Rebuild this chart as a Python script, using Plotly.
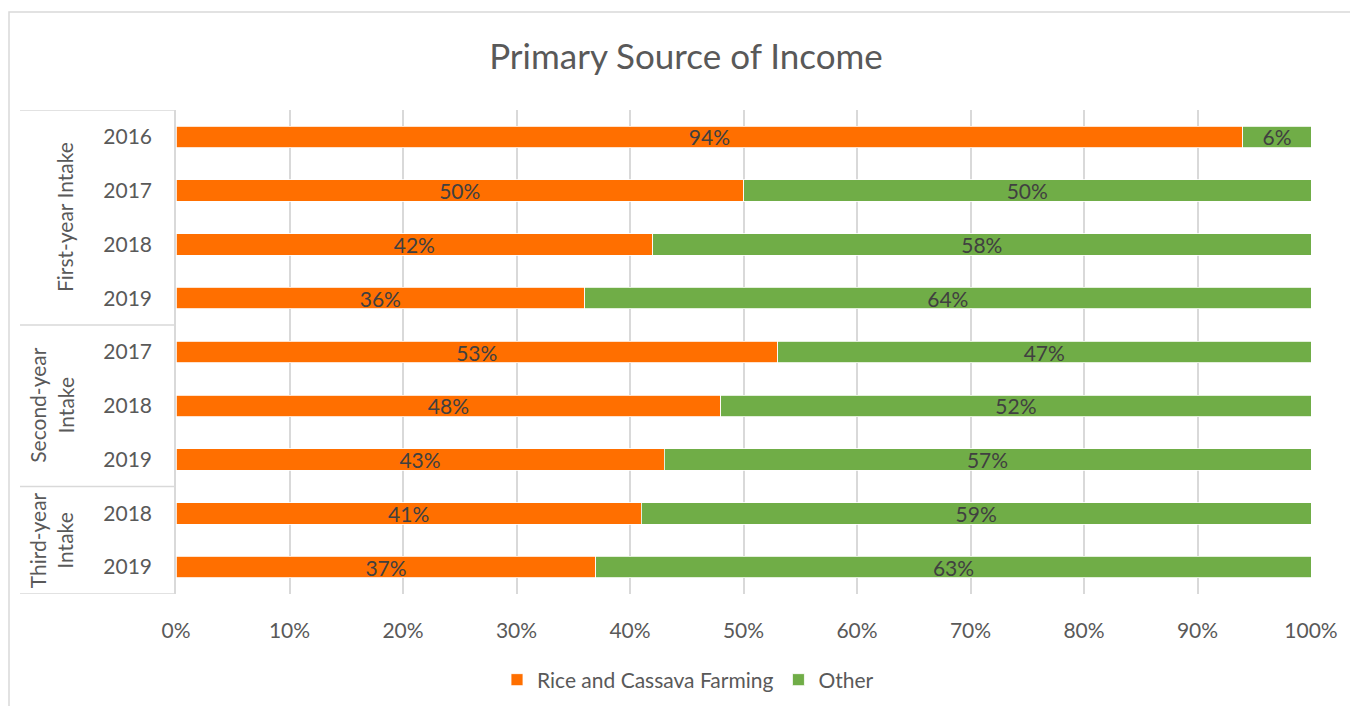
import plotly.graph_objects as go

groups = ["First-year Intake", "Second-year<br>Intake", "Third-year<br>Intake"]
group_sizes = [4, 3, 2]
years = ["2016", "2017", "2018", "2019", "2017", "2018", "2019", "2018", "2019"]
rice = [94, 50, 42, 36, 53, 48, 43, 41, 37]
other = [6, 50, 58, 64, 47, 52, 57, 59, 63]
x_ticks = [0, 10, 20, 30, 40, 50, 60, 70, 80, 90, 100]

ORANGE = "#FF6F00"
GREEN = "#70AD47"
GRID = "#D9D9D9"
TXT = "#595959"
FONT = "Lato"

idx = list(range(len(years)))
OFF = 8  # page body margin
W, H = 1358 - OFF, 706 - OFF
ml, mt = 176 - OFF, 110 - OFF
pw, ph = 1135, 484
mr = W - ml - pw
mb = H - mt - ph

fig = go.Figure()
for name, vals, col in [("Rice and Cassava Farming", rice, ORANGE), ("Other", other, GREEN)]:
    fig.add_trace(go.Bar(
        y=idx, x=vals, orientation="h", name=name,
        marker=dict(color=col, line=dict(color="white", width=0.8)),
        text=[f"{v}%" for v in vals], textposition="inside", insidetextanchor="middle",
        constraintext="none",
        textfont=dict(color="#404040", size=21, family=FONT),
    ))

shapes = []
annotations = []
start = 0
bounds = [-0.5]
for g, n in zip(groups, group_sizes):
    mid = start + (n - 1) / 2
    annotations.append(dict(
        text=g, xref="paper", yref="y", x=0, y=mid, xshift=-(176 - 79),
        showarrow=False, textangle=-90, font=dict(size=21, color=TXT, family=FONT),
        xanchor="right", yanchor="middle", align="center",
    ))
    start += n
    bounds.append(start - 0.5)

x_left = (20 - 176) / pw
for b in bounds:
    shapes.append(dict(type="line", xref="paper", yref="y", x0=x_left, x1=0, y0=b, y1=b,
                       line=dict(color=GRID, width=1.5)))
# outer chart border
shapes.append(dict(type="rect", xref="paper", yref="paper",
                   x0=(1 - ml) / pw, x1=1.2, y0=-0.5, y1=(ph + mt - (12 - OFF)) / ph,
                   line=dict(color=GRID, width=1.5), fillcolor="rgba(0,0,0,0)", layer="below"))

fig.update_layout(
    width=W, height=H,
    margin=dict(l=ml, r=mr, t=mt, b=mb, autoexpand=False),
    barmode="stack", bargap=0.6,
    paper_bgcolor="white", plot_bgcolor="white",
    title=dict(text="Primary Source of Income", x=(686 - OFF) / W, xref="container",
               xanchor="center",
               y=1 - (57 - OFF) / H, yanchor="middle", yref="container",
               font=dict(size=35, color=TXT, family=FONT)),
    font=dict(family=FONT, color=TXT, size=21),
    legend=dict(orientation="h", x=(688 - 176) / pw, xanchor="center",
                y=-((680 - OFF) - (mt + ph)) / ph,
                yanchor="middle", font=dict(size=21, color=TXT, family=FONT),
                itemwidth=30, traceorder="normal"),
    shapes=shapes, annotations=annotations,
    showlegend=True,
)
fig.update_xaxes(range=[0, 100], tickvals=x_ticks, ticktext=[f"{v}%" for v in x_ticks],
                 showgrid=True, gridcolor=GRID, gridwidth=1.5, zeroline=False,
                 showline=False, ticks="", tickfont=dict(size=21, color=TXT),
                 ticklabelstandoff=22)
fig.update_yaxes(range=[len(years) - 0.5, -0.5], tickvals=idx, ticktext=years,
                 showgrid=False, zeroline=False, showline=True, linecolor=GRID, linewidth=1.5,
                 ticks="", tickfont=dict(size=21, color=TXT), ticklabelstandoff=18)

fig.write_html("out.html")
